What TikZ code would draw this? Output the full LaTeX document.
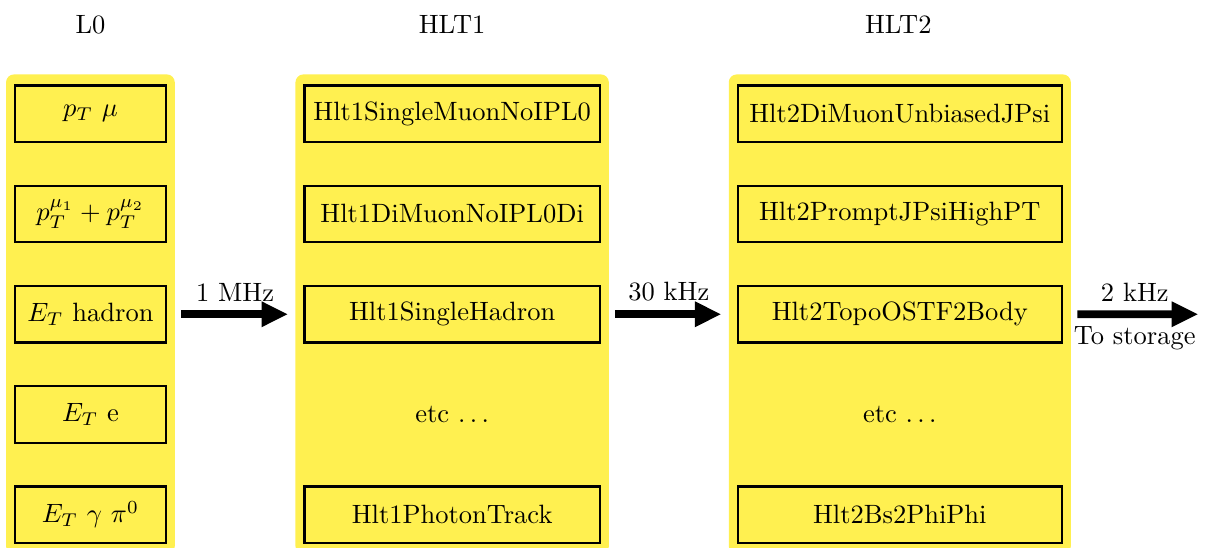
\documentclass[tikz,border=0pt]{standalone}
\usetikzlibrary{arrows.meta,fit,backgrounds}
\definecolor{trigyellow}{RGB}{255,240,80}
\tikzset{
  linebox/.style={draw=black, thick, fill=trigyellow, minimum height=0.75cm},
  stagebg/.style={fill=trigyellow, rounded corners=3pt, inner xsep=3pt, inner ysep=3.8pt},
  rate/.style={line width=3pt, -{Triangle[length=10pt,width=9pt]}},
}
\begin{document}
\begin{tikzpicture}[x=1cm, y=1cm] % {{{
\pgfmathsetmacro{\rowstep}{1.33}
\useasboundingbox (0,0) rectangle (16.03,-7.27);
% stage titles
\node (tl0) at (1.2,-0.33) {L0};
\node (thlt1) at (6.0,-0.33) {HLT1};
\node (thlt2) at (11.92,-0.33) {HLT2};
\begin{scope}[shift={(1.2,-1.51)}] % L0 {{{
  \foreach \i/\txt in {1/$p_T\ \mu$, 2/$p_T^{\mu_1}+p_T^{\mu_2}$, 3/$E_T$ hadron, 4/$E_T$ e, 5/$E_T\ \gamma\ \pi^0$} {
    \node[linebox, minimum width=2cm] (l0-\i) at (0,{-(\i-1)*\rowstep}) {\txt};
  }
\end{scope} % }}}
\begin{scope}[shift={(6.0,-1.51)}] % HLT1 {{{
  \foreach \i/\txt in {1/Hlt1SingleMuonNoIPL0, 2/Hlt1DiMuonNoIPL0Di, 3/Hlt1SingleHadron, 5/Hlt1PhotonTrack} {
    \node[linebox, minimum width=3.92cm] (h1-\i) at (0,{-(\i-1)*\rowstep}) {\txt};
  }
  \node (h1-4) at (0,{-3*\rowstep}) {etc $\ldots$};
\end{scope} % }}}
\begin{scope}[shift={(11.94,-1.51)}] % HLT2 {{{
  \foreach \i/\txt in {1/Hlt2DiMuonUnbiasedJPsi, 2/Hlt2PromptJPsiHighPT, 3/Hlt2TopoOSTF2Body, 5/Hlt2Bs2PhiPhi} {
    \node[linebox, minimum width=4.3cm] (h2-\i) at (0,{-(\i-1)*\rowstep}) {\txt};
  }
  \node (h2-4) at (0,{-3*\rowstep}) {etc $\ldots$};
\end{scope} % }}}
% yellow stage panels
\begin{scope}[on background layer]
  \node[stagebg, fit=(l0-1)(l0-5)] (bg0) {};
  \node[stagebg, fit=(h1-1)(h1-5)] (bg1) {};
  \node[stagebg, fit=(h2-1)(h2-5)] (bg2) {};
\end{scope}
% rates
\coordinate (store) at (15.9,-4.17);
\draw[rate, shorten <=2.3pt, shorten >=2.6pt] (l0-3 -| bg0.east) -- node[above] {1 MHz} (h1-3 -| bg1.west);
\draw[rate, shorten <=2.3pt, shorten >=2.6pt] (h1-3 -| bg1.east) -- node[above] {30 kHz} (h2-3 -| bg2.west);
\draw[rate, shorten <=2.3pt] (h2-3 -| bg2.east) -- node[above] {2 kHz} node[below] {To storage} (store);
\end{tikzpicture} % }}}
\end{document}
